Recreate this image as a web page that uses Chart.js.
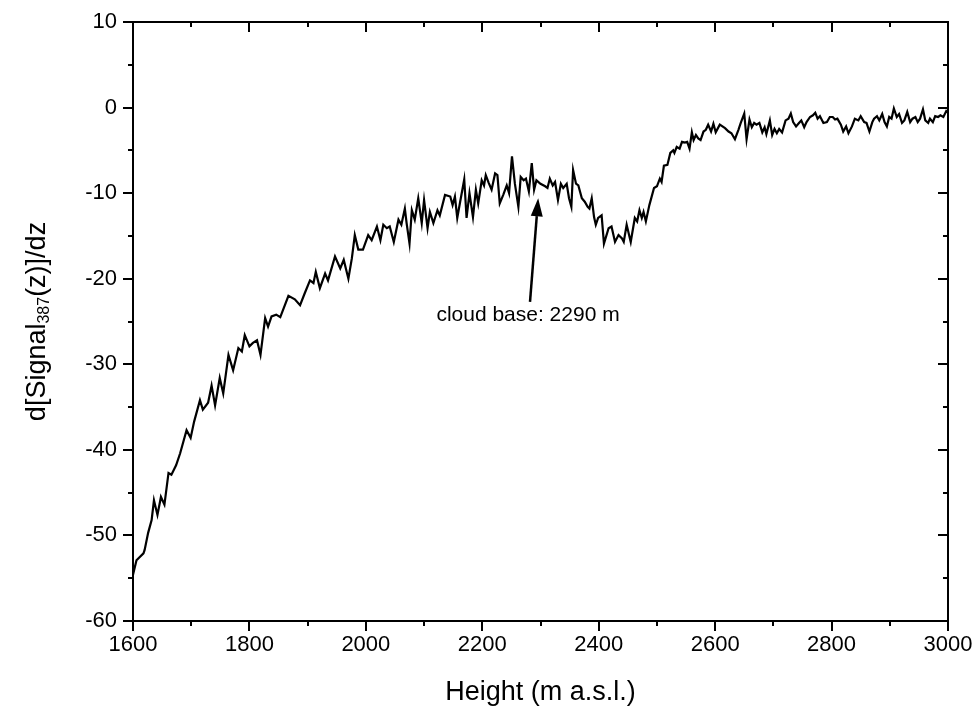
<!DOCTYPE html>
<html>
<head>
<meta charset="utf-8">
<script src="https://cdn.jsdelivr.net/npm/chart.js@4/dist/chart.umd.min.js"></script>
<style>
  html, body { margin: 0; padding: 0; background: #fff; }
  #wrap { width: 978px; height: 713px; }
</style>
</head>
<body>
<div id="wrap"><canvas id="signalChart"></canvas></div>
<script>
// heights (m a.s.l.) and d[Signal387(z)]/dz
const heights = [
  1600, 1606, 1618, 1620, 1626, 1632, 1636, 1642, 1648, 1654, 1661, 1666, 1674, 1681, 1692, 1699,
  1705, 1715, 1720, 1729, 1735, 1741, 1749, 1755, 1764, 1772, 1781, 1787, 1792, 1800,
  1806, 1813, 1819, 1827, 1832, 1838, 1846, 1853, 1867, 1878, 1887, 1895,
  1904, 1910, 1914, 1921, 1930, 1935, 1947, 1956, 1962, 1970, 1976, 1981, 1987, 1995,
  2004, 2010, 2019, 2025, 2030, 2036, 2041, 2048, 2056, 2061, 2067, 2070, 2075, 2079, 2084, 2090, 2096,
  2100, 2106, 2110, 2116, 2123, 2127, 2136, 2145, 2149, 2153, 2157, 2162, 2169, 2173, 2178, 2184, 2189, 2193, 2199,
  2203, 2206, 2211, 2216, 2222, 2226, 2230, 2236, 2242, 2246, 2251, 2256, 2262, 2266, 2271, 2275, 2280, 2285, 2289, 2293,
  2300, 2308, 2312, 2316, 2321, 2325, 2330, 2335, 2339, 2345, 2349, 2353, 2356, 2361, 2365, 2371, 2376, 2381, 2384, 2388, 2392, 2395, 2399,
  2405, 2409, 2417, 2422, 2428, 2434, 2440, 2443, 2448, 2455, 2462, 2466, 2470, 2474, 2477, 2481, 2487, 2495,
  2500, 2505, 2508, 2512, 2518, 2523, 2528, 2530, 2534, 2539, 2543, 2548, 2552, 2556, 2560, 2563, 2567, 2571, 2575, 2580, 2584, 2588, 2593, 2597,
  2601, 2608, 2617, 2623, 2628, 2634, 2640, 2644, 2650, 2654, 2659, 2663, 2667, 2671, 2676, 2681, 2685, 2688, 2694, 2698,
  2702, 2706, 2710, 2715, 2721, 2726, 2730, 2734, 2739, 2744, 2748, 2753, 2757, 2763, 2768, 2772, 2776, 2780, 2786, 2792, 2797,
  2802, 2806, 2810, 2816, 2820, 2825, 2829, 2835, 2840, 2846, 2850, 2856, 2860, 2865, 2870, 2873, 2878, 2882, 2887, 2891, 2895, 2899,
  2903, 2907, 2912, 2916, 2921, 2925, 2930, 2935, 2939, 2944, 2948, 2952, 2957, 2961, 2966, 2969, 2974, 2978, 2983, 2987, 2992, 2997, 3000
];
const signal = [
  -54.6, -52.9, -52.1, -51.7, -49.7, -48.2, -45.9, -47.6, -45.5, -46.4, -42.7, -42.9, -41.8, -40.4, -37.7, -38.6,
  -36.7, -34.2, -35.3, -34.5, -32.5, -34.8, -31.6, -33.4, -28.9, -30.7, -28.1, -28.5, -26.6, -27.9,
  -27.5, -27.2, -28.9, -24.6, -25.6, -24.4, -24.2, -24.5, -22.0, -22.4, -23.1, -21.7,
  -20.2, -20.5, -19.2, -21.1, -19.4, -20.2, -17.4, -18.8, -17.8, -20.0, -17.6, -14.9, -16.6, -16.6,
  -14.9, -15.5, -13.9, -15.5, -13.7, -14.1, -13.9, -15.7, -13.1, -13.7, -11.8, -13.5, -15.9, -12.0, -13.1, -10.6, -13.5,
  -10.8, -14.1, -12.2, -13.5, -12.0, -12.6, -10.2, -10.4, -11.4, -10.4, -12.9, -11.0, -8.4, -12.9, -10.0, -12.8, -9.6, -11.2, -8.5,
  -9.1, -7.9, -8.8, -9.6, -7.7, -7.9, -11.2, -10.2, -9.1, -10.0, -5.7, -8.9, -11.6, -8.1, -8.5, -8.3, -9.8, -6.5, -9.6, -8.5,
  -8.9, -9.2, -9.4, -8.3, -9.1, -8.7, -10.8, -8.9, -9.4, -8.9, -10.6, -11.6, -7.3, -8.9, -9.1, -10.6, -11.0, -11.6, -11.8, -10.6, -12.8, -13.7, -12.9,
  -12.6, -15.9, -14.1, -13.9, -15.7, -14.9, -15.3, -15.7, -13.7, -15.7, -12.9, -13.3, -12.0, -12.9, -12.2, -13.3, -11.4, -9.4,
  -9.2, -8.3, -8.7, -6.8, -6.7, -5.3, -5.0, -5.3, -4.6, -4.8, -4.0, -4.1, -4.0, -4.8, -2.9, -3.8, -3.2, -3.6, -3.8, -2.8, -2.6, -2.0, -2.8, -1.9,
  -2.9, -2.0, -2.4, -2.8, -3.0, -3.7, -2.6, -1.8, -0.7, -3.7, -1.4, -2.3, -1.8, -2.0, -1.8, -2.9, -2.3, -3.1, -1.5, -3.2,
  -2.5, -3.0, -2.5, -2.9, -1.5, -1.3, -0.7, -1.7, -2.2, -1.8, -1.5, -2.3, -1.7, -1.1, -0.9, -0.6, -1.3, -1.0, -1.8, -1.7, -1.1,
  -1.1, -1.4, -1.3, -2.0, -2.8, -2.2, -3.0, -2.2, -1.3, -1.5, -1.0, -1.7, -1.8, -2.8, -1.7, -1.3, -1.0, -1.5, -0.75, -1.7, -2.2, -1.1,
  -1.3, -0.1, -1.1, -0.75, -1.8, -1.5, -0.5, -1.7, -1.3, -1.1, -1.7, -1.3, -0.2, -1.5, -1.8, -1.3, -1.7, -1.0, -1.1, -0.9, -1.1, -0.4, -0.6
];

// cloud base annotation: arrow tail and tip (height, value)
const arrowTail = [2282, -22.7];
const arrowTip = [2296, -10.6];
const noteText = 'cloud base: 2290 m';

// the figure uses a condensed Arial; use Liberation Sans Narrow when it exists
function hasFont(name) {
  const c = document.createElement('canvas').getContext('2d');
  c.font = '40px monospace';
  const w = c.measureText('Height 1600').width;
  c.font = '40px "' + name + '", monospace';
  return c.measureText('Height 1600').width !== w;
}
const narrow = hasFont('Liberation Sans Narrow');
const FONT = narrow ? '"Liberation Sans Narrow", Arial, sans-serif' : 'Arial, "Liberation Sans", sans-serif';
const TICK_SIZE = narrow ? 26 : 22;
const TITLE_SIZE = narrow ? 32 : 27;
const NOTE_SIZE = narrow ? 25 : 21;

// frame + major/minor ticks (outward on left/bottom, inward on top/right)
const framePlugin = {
  id: 'frame',
  afterDraw(chart) {
    const { ctx, chartArea: a, scales: { x, y } } = chart;
    ctx.save();
    ctx.strokeStyle = '#000';
    ctx.lineWidth = 2;
    ctx.strokeRect(a.left, a.top, a.right - a.left, a.bottom - a.top);
    ctx.beginPath();
    for (let v = 1600; v <= 3000; v += 100) {
      const px = Math.round(x.getPixelForValue(v));
      const len = v % 200 === 0 ? 10 : 5;
      ctx.moveTo(px, a.bottom); ctx.lineTo(px, a.bottom + len);
      ctx.moveTo(px, a.top); ctx.lineTo(px, a.top + len);
    }
    for (let v = -60; v <= 10; v += 5) {
      const py = Math.round(y.getPixelForValue(v));
      const len = v % 10 === 0 ? 10 : 5;
      ctx.moveTo(a.left, py); ctx.lineTo(a.left - len, py);
      ctx.moveTo(a.right, py); ctx.lineTo(a.right - len, py);
    }
    ctx.stroke();
    ctx.restore();
  }
};

// y title with subscript, and the cloud base arrow
const labelPlugin = {
  id: 'labels',
  afterDraw(chart) {
    const { ctx, chartArea: a, scales: { x, y } } = chart;
    ctx.save();
    ctx.fillStyle = '#000';
    ctx.translate(38, (a.top + a.bottom) / 2);
    ctx.rotate(-Math.PI / 2);
    const big = TITLE_SIZE + 'px ' + FONT, small = Math.round(TITLE_SIZE * 0.58) + 'px ' + FONT;
    const parts = [['d[Signal', big, 0], ['387', small, 7], ['(z)]/dz', big, 0]];
    let total = 0;
    parts.forEach(p => { ctx.font = p[1]; total += ctx.measureText(p[0]).width; });
    let cx = -total / 2;
    ctx.textBaseline = 'middle';
    parts.forEach(p => {
      ctx.font = p[1];
      ctx.fillText(p[0], cx, p[2]);
      cx += ctx.measureText(p[0]).width;
    });
    ctx.restore();

    // arrow
    const x0 = x.getPixelForValue(arrowTail[0]), y0 = y.getPixelForValue(arrowTail[1]);
    const x1 = x.getPixelForValue(arrowTip[0]), y1 = y.getPixelForValue(arrowTip[1]);
    const ang = Math.atan2(y1 - y0, x1 - x0);
    const hl = 18, hw = 6;
    const bx = x1 - hl * Math.cos(ang), by = y1 - hl * Math.sin(ang);
    ctx.save();
    ctx.strokeStyle = '#000';
    ctx.fillStyle = '#000';
    ctx.lineWidth = 2.5;
    ctx.beginPath();
    ctx.moveTo(x0, y0);
    ctx.lineTo(bx, by);
    ctx.stroke();
    ctx.beginPath();
    ctx.moveTo(x1, y1);
    ctx.lineTo(bx + hw * Math.sin(ang), by - hw * Math.cos(ang));
    ctx.lineTo(bx - hw * Math.sin(ang), by + hw * Math.cos(ang));
    ctx.closePath();
    ctx.fill();
    ctx.font = NOTE_SIZE + 'px ' + FONT;
    ctx.textAlign = 'center';
    ctx.textBaseline = 'middle';
    ctx.fillText(noteText, x0 - 2, y0 + 13);
    ctx.restore();
  }
};

const ctx = document.getElementById('signalChart').getContext('2d');
const signalChart = new Chart(ctx, {
  type: 'line',
  data: {
    datasets: [{
      label: 'd[Signal387(z)]/dz',
      data: heights.map((h, i) => ({ x: h, y: signal[i] })),
      borderColor: '#000',
      borderWidth: 2.2,
      pointRadius: 0,
      tension: 0,
      fill: false
    }]
  },
  options: {
    responsive: true,
    maintainAspectRatio: false,
    animation: false,
    layout: { padding: { left: 0, top: 22, right: 30, bottom: 0 } },
    plugins: { legend: { display: false }, tooltip: { enabled: false } },
    scales: {
      x: {
        type: 'linear',
        min: 1600,
        max: 3000,
        grid: { display: false, drawTicks: true, tickLength: 9 },
        border: { display: false },
        ticks: {
          stepSize: 200, color: '#000', font: { size: TICK_SIZE, family: FONT }, padding: 2, maxRotation: 0,
          callback: v => String(v)
        },
        title: { display: true, text: 'Height (m a.s.l.)', color: '#000', font: { size: TITLE_SIZE, family: FONT }, padding: { top: 8 } },
        afterFit(scale) { scale.height = 92; }
      },
      y: {
        min: -60,
        max: 10,
        grid: { display: false, drawTicks: true, tickLength: 10 },
        border: { display: false },
        ticks: { stepSize: 10, color: '#000', font: { size: TICK_SIZE, family: FONT }, padding: 6, callback: v => String(v) },
        afterFit(scale) { scale.width = 133; }
      }
    }
  },
  plugins: [framePlugin, labelPlugin]
});
</script>
</body>
</html>
